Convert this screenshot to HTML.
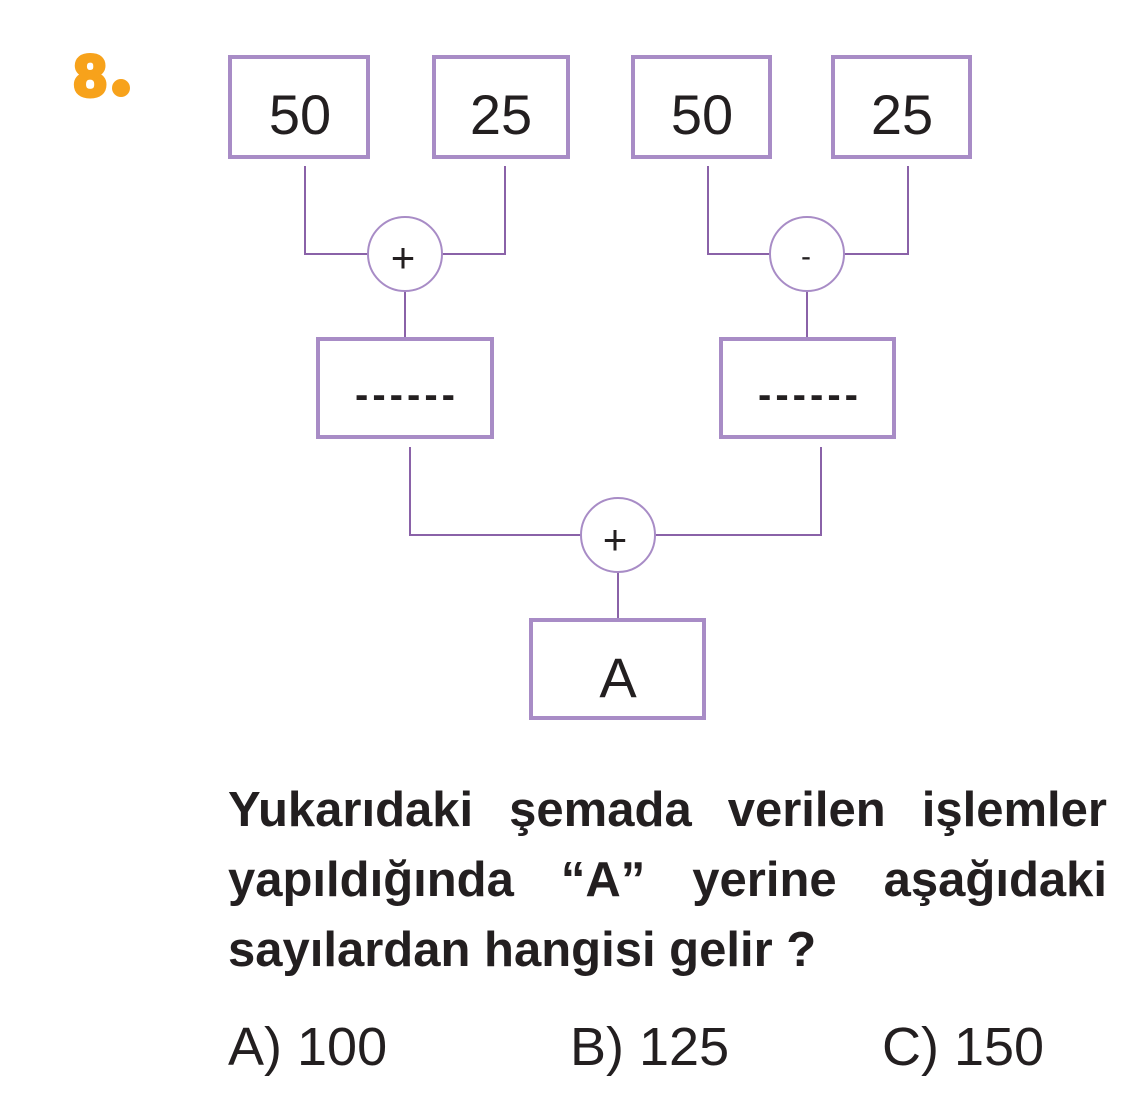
<!DOCTYPE html>
<html><head><meta charset="utf-8"><style>
body{margin:0;background:#fff;width:1125px;height:1103px;overflow:hidden;position:relative;font-family:"Liberation Sans",sans-serif}
.p{position:absolute;left:228px;width:879px;font-size:49px;font-weight:bold;color:#231f20;text-align:justify;text-align-last:justify;line-height:70px}
</style></head><body>
<svg width="1125" height="1103" style="position:absolute;left:0;top:0">
<text x="74" y="96" font-size="58" font-weight="bold" fill="#f7a21b" stroke="#f7a21b" stroke-width="4" font-family="Liberation Sans">8</text>
<circle cx="121" cy="88" r="9" fill="#f7a21b"/>
<g fill="#fff" stroke="#a88cc6" stroke-width="4">
<rect x="230" y="57" width="138" height="100"/>
<rect x="434" y="57" width="134" height="100"/>
<rect x="633" y="57" width="137" height="100"/>
<rect x="833" y="57" width="137" height="100"/>
<rect x="318" y="339" width="174" height="98"/>
<rect x="721" y="339" width="173" height="98"/>
<rect x="531" y="620" width="173" height="98"/>
</g>
<g fill="none" stroke="#8a62a8" stroke-width="2">
<polyline points="305,166 305,254 368,254"/><polyline points="505,166 505,254 442,254"/>
<polyline points="708,166 708,254 770,254"/><polyline points="908,166 908,254 844,254"/>
<line x1="405" y1="291" x2="405" y2="337"/><line x1="807" y1="291" x2="807" y2="337"/>
<polyline points="410,447 410,535 581,535"/><polyline points="821,447 821,535 655,535"/>
<line x1="618" y1="572" x2="618" y2="618"/>
</g>
<g fill="#fff" stroke="#a88cc6" stroke-width="2">
<circle cx="405" cy="254" r="37"/><circle cx="807" cy="254" r="37"/><circle cx="618" cy="535" r="37"/>
</g>
<g font-family="Liberation Sans" fill="#231f20" text-anchor="middle">
<text x="300" y="134" font-size="56">50</text>
<text x="501" y="134" font-size="56">25</text>
<text x="702" y="134" font-size="56">50</text>
<text x="902" y="134" font-size="56">25</text>
<text x="407" y="408" font-size="40" font-weight="bold" letter-spacing="4">------</text>
<text x="810" y="408" font-size="40" font-weight="bold" letter-spacing="4">------</text>
<text x="618" y="697" font-size="56">A</text>
<text x="403" y="272" font-size="42">+</text>
<text x="806" y="266" font-size="30">-</text>
<text x="615" y="554" font-size="42">+</text>
</g>
<g font-family="Liberation Sans" fill="#231f20" font-size="54">
<text x="228" y="1065">A) 100</text>
<text x="570" y="1065">B) 125</text>
<text x="882" y="1065">C) 150</text>
</g>
</svg>
<div class="p" style="top:775px">Yukarıdaki şemada verilen işlemler</div>
<div class="p" style="top:845px">yapıldığında “A” yerine aşağıdaki</div>
<div class="p" style="top:915px;text-align-last:left">sayılardan hangisi gelir ?</div>
</body></html>
